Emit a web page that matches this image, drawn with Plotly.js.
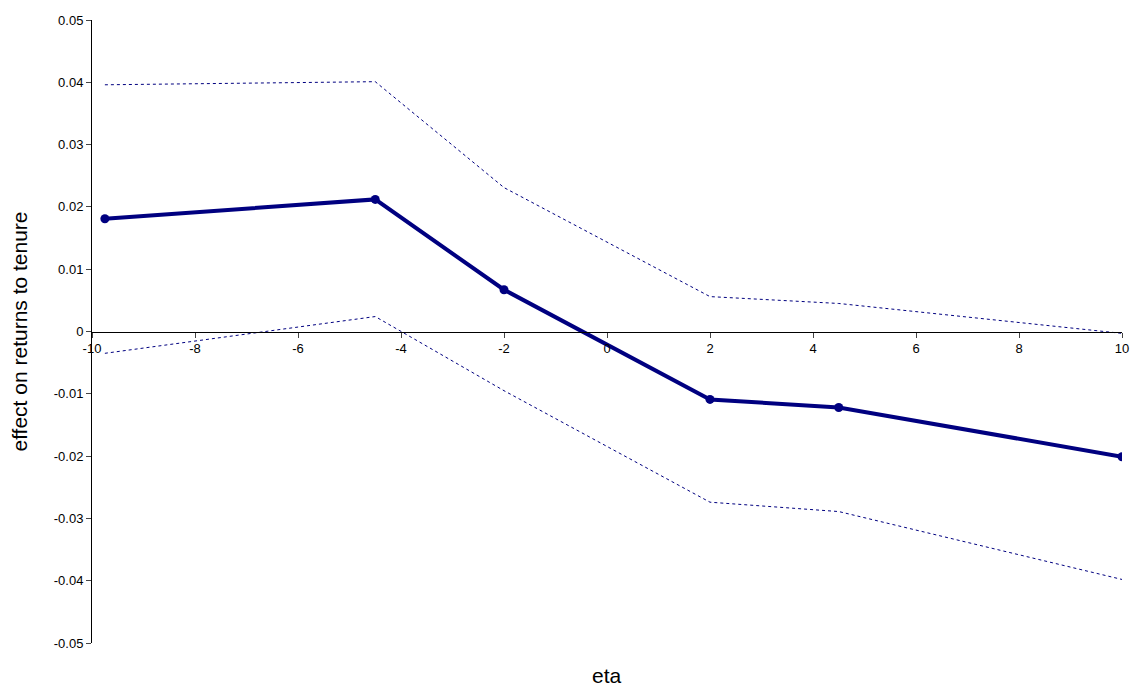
<!DOCTYPE html>
<html><head><script src="https://cdn.plot.ly/plotly-3.0.1.min.js"></script></head>
<body style="margin:0">
<div id="c" style="width:1131px;height:688px"></div>
<script>
const eta = [-9.75, -4.5, -2, 2, 4.5, 10];
const effect = [0.0181, 0.0212, 0.0067, -0.0109, -0.0122, -0.0201];
const upper = [0.0396, 0.0401, 0.0231, 0.0056, 0.0045, -0.0003];
const lower = [-0.0035, 0.0024, -0.0095, -0.0274, -0.0289, -0.0398];
const xTicks = [-10, -8, -6, -4, -2, 0, 2, 4, 6, 8, 10];
const yTicks = [-0.05, -0.04, -0.03, -0.02, -0.01, 0, 0.01, 0.02, 0.03, 0.04, 0.05];
const col = '#000080';
Plotly.newPlot('c', [
  {x: eta, y: upper, mode: 'lines', line: {color: col, width: 1, dash: 'dot'}},
  {x: eta, y: lower, mode: 'lines', line: {color: col, width: 1, dash: 'dot'}},
  {x: eta, y: effect, mode: 'lines+markers', line: {color: col, width: 4}, marker: {color: col, size: 9}}
], {
  width: 1131, height: 688, showlegend: false,
  margin: {l: 92, r: 9, t: 20, b: 45},
  paper_bgcolor: 'white', plot_bgcolor: 'white',
  font: {family: 'Liberation Sans, Arial', size: 13, color: '#000'},
  xaxis: {range: [-10, 10], tickvals: xTicks, ticktext: xTicks.map(String), anchor: 'free', position: 0.5,
    showline: true, linecolor: '#000', linewidth: 1, ticks: 'outside', ticklen: 5, showgrid: false, zeroline: false},
  yaxis: {range: [-0.05, 0.05], tickvals: yTicks, ticktext: yTicks.map(v => v === 0 ? '0' : v.toFixed(2)),
    showline: true, linecolor: '#000', linewidth: 1, ticks: 'outside', ticklen: 5, showgrid: false, zeroline: false,
    title: {text: 'effect on returns to tenure', font: {size: 21}, standoff: 20}},
  annotations: [{text: 'eta', xref: 'paper', yref: 'paper', x: 0.5, y: -0.03, yanchor: 'top', showarrow: false, font: {size: 21}}]
}, {displayModeBar: false});
</script></body></html>
